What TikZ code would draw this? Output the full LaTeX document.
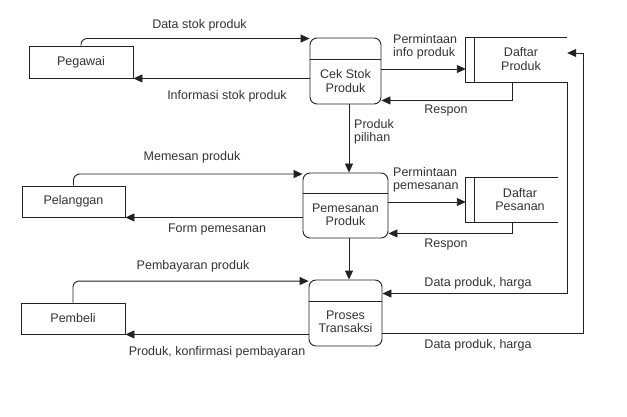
\documentclass[tikz,border=0pt]{standalone}
\usepackage{fontspec}
\setmainfont{Liberation Sans}
\usetikzlibrary{arrows.meta,calc}
\definecolor{ln}{HTML}{222222}
\definecolor{tx}{HTML}{333333}
\tikzset{
  every node/.style={font=\fontsize{12.5}{13.5}\selectfont, text=tx},
  ext/.style={draw=ln, line width=0.9pt, fill=white, inner sep=0pt},
  proc/.style={draw=ln, line width=0.9pt, rounded corners=7pt, inner sep=0pt},
  lbl/.style={align=center, inner sep=0pt},
  lbll/.style={align=left, inner sep=0pt, anchor=west},
  arr/.style={draw=ln, line width=0.9pt, -{Triangle[length=9pt,width=8pt]}},
  storeline/.style={draw=ln, line width=0.9pt},
  hole/.style={inner sep=0pt},
}
\begin{document}
\begin{tikzpicture}[x=1pt,y=-1pt]
\useasboundingbox (0,0) rectangle (627,417);
\fill[white] (0,0) rectangle (627,417);

% external entities
\node[ext, minimum width=104pt, minimum height=32pt] (peg) at (81,62) {Pegawai};
\node[ext, minimum width=103pt, minimum height=31pt] (pel) at (73.5,201.5) {Pelanggan};
\node[ext, minimum width=104pt, minimum height=31pt] (pmb) at (73,318.5) {Pembeli};

% processes
\node[proc, minimum width=71pt, minimum height=66pt] (cek) at (345.5,71) {};
\draw[storeline] ([yshift=-22pt]cek.north west) -- ([yshift=-22pt]cek.north east);
\node[lbl] (cekt) at (345.5,81) {Cek Stok\\Produk};

\node[proc, minimum width=85pt, minimum height=65pt] (pem) at (345.5,205.5) {};
\draw[storeline] ([yshift=-21pt]pem.north west) -- ([yshift=-21pt]pem.north east);
\node[lbl] (pemt) at (345.5,215) {Pemesanan\\Produk};

\node[proc, minimum width=73pt, minimum height=66pt] (pro) at (345.5,313) {};
\draw[storeline] ([yshift=-22pt]pro.north west) -- ([yshift=-22pt]pro.north east);
\node[lbl] (prot) at (345.5,322) {Proses\\Transaksi};

% data stores
\node[hole, minimum width=101pt, minimum height=44pt] (dp) at (516.5,60) {};
\draw[storeline] (dp.north east) -- (dp.north west) -- (dp.south west) -- (dp.south east);
\draw[storeline] ([xshift=9pt]dp.north west) -- ([xshift=9pt]dp.south west);
\node[lbl] (dpt) at (521,59) {Daftar\\Produk};

\node[hole, minimum width=92pt, minimum height=44pt] (dps) at (512,200) {};
\draw[storeline] (dps.north east) -- (dps.north west) -- (dps.south west) -- (dps.south east);
\draw[storeline] ([xshift=9pt]dps.north west) -- ([xshift=9pt]dps.south west);
\node[lbl] (dpst) at (520,199.5) {Daftar\\Pesanan};

% flows: Pegawai <-> Cek Stok
\draw[arr, rounded corners=6pt] (peg.north) |- ([yshift=-1pt]cek.north west);
\draw[arr] (cek.west |- peg.south) -- (peg.south east);
\node[lbl] (l1) at (199.5,25) {Data stok produk};
\node[lbl] (l2) at (227,96) {Informasi stok produk};

% Cek Stok <-> Daftar Produk
\coordinate (a1) at ([yshift=2pt]cek.east);
\draw[arr] (a1) -- (a1 -| dp.west);
\node[lbll] (l3) at (393,47) {Permintaan\\info produk};
\coordinate (r1) at ([xshift=-4.5pt]dp.south);
\coordinate (r1e) at ([yshift=4pt]cek.south east);
\draw[arr] (r1) |- (r1e);
\node[lbl] (l4) at (446,110.5) {Respon};

% Cek Stok -> Pemesanan
\draw[arr] ([xshift=3.5pt]cek.south) -- ([xshift=3.5pt]pem.north);
\node[lbll] (l5) at (354,132) {Produk\\pilihan};

% Pelanggan <-> Pemesanan
\draw[arr, rounded corners=6pt] (pel.north) |- ([yshift=-1.5pt]pem.north west);
\draw[arr] (pem.west |- pel.south) -- (pel.south east);
\node[lbl] (l6) at (192,157) {Memesan produk};
\node[lbl] (l7) at (217,229) {Form pemesanan};

% Pemesanan <-> Daftar Pesanan
\coordinate (a2) at ([yshift=3.5pt]pem.east);
\draw[arr] (a2) -- (a2 -| dps.west);
\node[lbll] (l8) at (393,180) {Permintaan\\pemesanan};
\draw[arr] (dps.south) |- ([yshift=5pt]pem.south east);
\node[lbl] (l9) at (446,244) {Respon};

% Pemesanan -> Proses
\draw[arr] ([xshift=3.5pt]pem.south) -- ([xshift=3.5pt]pro.north);

% Pembeli <-> Proses
\draw[arr, rounded corners=6pt] (pmb.north) |- ([yshift=-1.5pt]pro.north west);
\draw[arr] (pro.west |- pmb.south) -- (pmb.south east);
\node[lbl] (l10) at (193,266.5) {Pembayaran produk};
\node[lbl] (l11) at (217,352) {Produk, konfirmasi pembayaran};

% Daftar Produk <-> Proses
\draw[arr] (dp.south east) |- ([yshift=-14pt]pro.north east);
\node[lbl] (l12) at (478,283) {Data produk, harga};
\coordinate (rr) at (583,53);
\draw[arr] ([yshift=-20pt]pro.east) -| (rr) -- (rr -| dp.east);
\node[lbl] (l13) at (478,345) {Data produk, harga};
\end{tikzpicture}
\end{document}
